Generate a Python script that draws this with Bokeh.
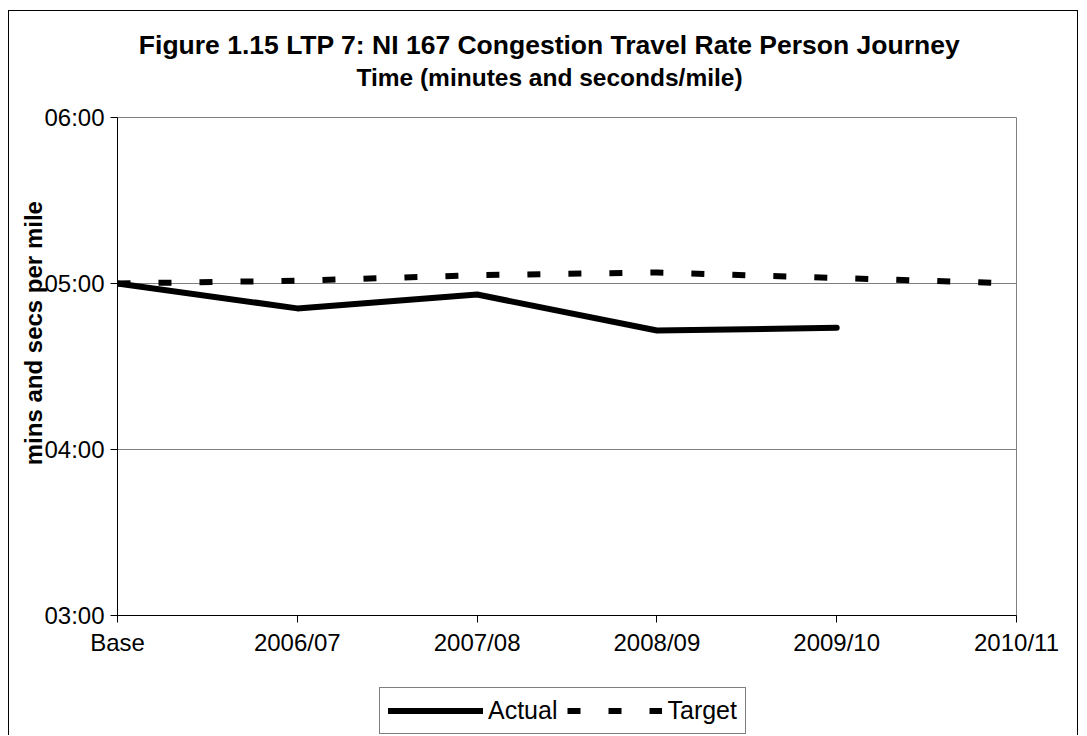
from bokeh.plotting import figure
from bokeh.layouts import column
from bokeh.models import Legend, LegendItem, Label, FixedTicker
from bokeh.embed import file_html
from bokeh.resources import INLINE

# ---- data (seconds per mile) ----
categories = ["Base", "2006/07", "2007/08", "2008/09", "2009/10", "2010/11"]
actual_secs = [300, 291, 296, 283, 284]
target_secs = [300, 301, 303, 304, 302, 300]
y_ticks = [180, 240, 300, 360]
y_tick_labels = ["03:00", "04:00", "05:00", "06:00"]
title_lines = ["Figure 1.15 LTP 7: NI 167 Congestion Travel Rate Person Journey",
               "Time (minutes and seconds/mile)"]
y_title = "mins and secs per mile"
series_names = ["Actual", "Target"]

FONT = "Liberation Sans"
W = 1070
BORDER = "1px solid black"

actual_style = dict(line_color="black", line_width=6, line_cap="round",
                    line_join="round")
target_style = dict(line_color="black", line_width=6, line_dash="13 28",
                    line_cap="butt")


def strip(height):
    f = figure(width=W, height=height, output_backend="svg",
               toolbar_location=None, title=None, x_range=(0, 1),
               y_range=(0, 1), x_axis_location=None, y_axis_location=None,
               min_border=0)
    f.outline_line_color = None
    f.grid.visible = False
    f.background_fill_color = "white"
    f.border_fill_color = "white"
    return f


# ---- title strip ----
p0 = strip(91)
p0.styles = {"border-top": BORDER, "border-left": BORDER, "border-right": BORDER}
for txt, yy, fs in zip(title_lines, [57.7, 25], ["26.5px", "24.5px"]):
    p0.add_layout(Label(x=432, y=yy, x_units="screen", y_units="screen",
                        text=txt, text_align="center",
                        text_baseline="alphabetic", text_font=FONT,
                        text_font_style="bold", text_font_size=fs,
                        text_color="black"))

# ---- main chart ----
p = figure(width=W, height=574, output_backend="svg", toolbar_location=None,
           title=None,
           x_range=(0, len(categories) - 1), y_range=(y_ticks[0], y_ticks[-1]),
           min_border_left=108, min_border_right=63, min_border_top=16,
           min_border_bottom=60)
p.styles = {"border-left": BORDER, "border-right": BORDER}
p.background_fill_color = "white"
p.border_fill_color = "white"
p.outline_line_color = "#808080"
p.outline_line_width = 1

xa = p.xaxis[0]
xa.ticker = FixedTicker(ticks=list(range(len(categories))))
xa.major_label_overrides = {i: c for i, c in enumerate(categories)}
ya = p.yaxis[0]
ya.ticker = FixedTicker(ticks=y_ticks)
ya.major_label_overrides = {t: l for t, l in zip(y_ticks, y_tick_labels)}
for ax in (xa, ya):
    ax.axis_line_color = "black"
    ax.axis_line_width = 1
    ax.major_tick_line_color = "black"
    ax.major_tick_out = 7
    ax.major_tick_in = 0
    ax.minor_tick_line_color = None
    ax.major_label_text_font = FONT
    ax.major_label_text_font_size = "24px"
    ax.major_label_text_color = "black"
    ax.major_label_standoff = 6

# y axis title (leading no-break spaces shift it up as in the original)
ya.axis_label = "\u00a0" * 10 + y_title
ya.axis_label_text_font = FONT
ya.axis_label_text_font_style = "bold"
ya.axis_label_text_font_size = "24px"
ya.axis_label_text_color = "black"
ya.axis_label_standoff = -6

p.xgrid.grid_line_color = None
p.ygrid.ticker = FixedTicker(ticks=y_ticks)
p.ygrid.grid_line_color = "#808080"
p.ygrid.grid_line_width = 1

xs_a = list(range(len(actual_secs)))
xs_t = list(range(len(target_secs)))
p.line(xs_a, actual_secs, **actual_style)
p.line(xs_t, target_secs, **target_style)

# ---- legend strip (same series, off its visible range) ----
p2 = strip(60)
p2.styles = {"border-left": BORDER, "border-right": BORDER}
la = p2.line(xs_a, actual_secs, **actual_style)
lt = p2.line(xs_t, target_secs, **target_style)
legend = Legend(items=[LegendItem(label=series_names[0], renderers=[la]),
                       LegendItem(label=series_names[1], renderers=[lt])],
                orientation="horizontal", location=(262, 1),
                glyph_width=95, glyph_height=29, label_standoff=5, spacing=10,
                padding=8, margin=0, border_line_color="black",
                border_line_width=1, background_fill_alpha=1,
                label_text_font=FONT, label_text_font_size="25px",
                label_text_color="black")
p2.add_layout(legend, "center")

lay = column(p0, p, p2, spacing=0,
             styles={"margin-left": "8px", "margin-top": "10px"})

open("out.html", "w").write(file_html(lay, INLINE))
